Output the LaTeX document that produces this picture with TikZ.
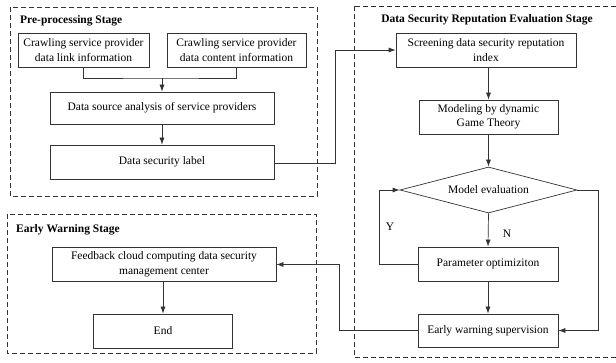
\documentclass[tikz,border=0pt]{standalone}
\usepackage{fontspec}
\setmainfont{Liberation Serif}
\usetikzlibrary{arrows.meta,shapes.geometric}
\begin{document}
\begin{tikzpicture}[x=1pt,y=-1pt,
  every node/.style={font=\fontsize{11.5}{14.5}\selectfont, text=black},
  procbox/.style={draw=black!80, line width=0.7pt, rectangle, inner sep=1pt, align=center},
  stagebox/.style={draw=black!80, line width=0.8pt, dash pattern=on 5pt off 3pt},
  stagetitle/.style={font=\fontsize{11.5}{14}\selectfont\bfseries, inner sep=0pt},
  conn/.style={draw=black!80, line width=0.7pt},
  arr/.style={conn, -{Latex[length=7pt,width=5pt]}},
  lbl/.style={font=\fontsize{11.5}{14}\selectfont, inner sep=0pt}
]
\useasboundingbox (0,0) rectangle (616,363);

% stage frames
\draw[stagebox] (10,7) rectangle (317,196);
\draw[stagebox] (354,6) rectangle (622,357);
\draw[stagebox] (7,214) rectangle (316,353);

\node[stagetitle, anchor=west] (t1) at (20,21) {Pre-processing Stage};
\node[stagetitle] (t2) at (487,20) {Data Security Reputation Evaluation Stage};
\node[stagetitle, anchor=west] (t3) at (16,230) {Early Warning Stage};

% pre-processing
\node[procbox, minimum width=131pt, minimum height=34pt] (c1) at (83.5,50) {Crawling service provider\\data link information};
\node[procbox, minimum width=139pt, minimum height=34pt] (c2) at (236.5,50) {Crawling service provider\\data content information};
\node[procbox, minimum width=224pt, minimum height=32pt] (dsa) at (162,108) {Data source analysis of service providers};
\node[procbox, minimum width=224pt, minimum height=34pt] (dsl) at (162,162) {Data security label};

% evaluation
\node[procbox, minimum width=180pt, minimum height=34pt] (scr) at (486,50) {Screening data security reputation\\index};
\node[procbox, minimum width=139pt, minimum height=34pt] (mod) at (488.5,117) {Modeling by dynamic\\Game Theory};
\node[draw=black!80, line width=0.7pt, diamond, aspect=3.85, minimum width=177pt, minimum height=46pt, inner sep=0pt] (dia) at (488.5,190) {};
\node[lbl] (dial) at (488.5,190) {Model evaluation};
\node[procbox, minimum width=140pt, minimum height=34pt] (par) at (488,264) {Parameter optimiziton};
\node[procbox, minimum width=140pt, minimum height=33pt] (ews) at (488,330.5) {Early warning supervision};

% early warning
\node[procbox, minimum width=224pt, minimum height=34pt] (fb) at (164,264.5) {Feedback cloud computing data security\\management center};
\node[procbox, minimum width=139pt, minimum height=34pt] (end) at (163,331) {End};

\node[lbl] (ylab) at (390,227) {Y};
\node[lbl] (nlab) at (507,234) {N};

% connectors
\coordinate (m) at (162,78);
\draw[conn] (c1.south) -- (c1.south |- m) -- (m) -- (c2.south |- m) -- (c2.south);
\draw[arr] (m) -- (dsa.north);
\draw[arr] (dsa.south) -- (dsl.north);
\coordinate (j1) at (335,163);
\draw[arr] (dsl.east |- j1) -- (j1) |- (scr.west);
\draw[arr] (mod.north |- scr.south) -- (mod.north);
\draw[arr] (mod.south) -- (dia.north);
\draw[arr] (dia.south) -- (par.north);
\coordinate (j2) at (379,264);
\draw[arr] (par.west) -- (j2) |- (dia.west);
\coordinate (j3) at (598,190);
\draw[arr] (dia.east) -- (j3) |- (ews.east);
\draw[arr] (par.south) -- (ews.north);
\coordinate (j4) at (339,330.5);
\draw[arr] (ews.west) -- (j4) |- (fb.east);
\draw[arr] (fb.south -| end.north) -- (end.north);
\end{tikzpicture}
\end{document}
